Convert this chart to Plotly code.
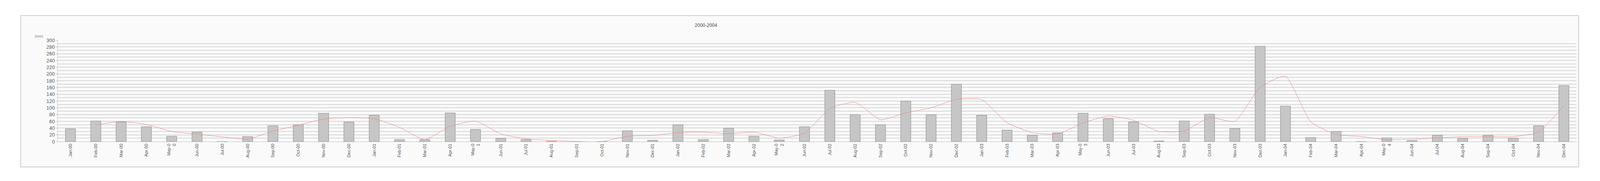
import plotly.graph_objects as go

months = ["Jan", "Feb", "Mar", "Apr", "May", "Jun", "Jul", "Aug", "Sep", "Oct", "Nov", "Dec"]
years = ["00", "01", "02", "03", "04"]
categories = [f"{m}-{y}" for y in years for m in months]
tick_text = [(f"May-0<br>{y[1]}" if m == "May" else f"{m}-{y}") for y in years for m in months]

rain = [38, 61, 58, 44, 16, 28, 0, 15, 47, 50, 84, 58,
        78, 6, 6, 85, 36, 10, 6, 1, 0, 0, 32, 4,
        50, 6, 40, 16, 5, 44, 152, 80, 50, 120, 80, 170,
        78, 34, 19, 26, 84, 68, 58, 2, 61, 81, 39, 282,
        105, 12, 30, 0, 11, 3, 19, 10, 19, 10, 47, 166]

trend = [None, 49.5, 59.5, 51, 30, 22, 14, 7.5, 31, 48.5, 67, 71,
         68, 42, 6, 45.5, 60.5, 23, 8, 3.5, 0.5, 0, 16, 18,
         27, 28, 23, 28, 10.5, 24.5, 98, 116, 65, 85, 100, 125,
         124, 56, 26.5, 22.5, 55, 76, 63, 30, 31.5, 71, 60, 160.5,
         193.5, 58.5, 21, 15, 5.5, 7, 11, 14.5, 14.5, 14.5, 28.5, 106.5]

H = 456
L, R, T, B = 140, 52, 95, 101
PH = H - T - B

fig = go.Figure()
fig.add_trace(go.Bar(x=categories, y=rain, width=0.4,
                     marker=dict(color="#c6c6c6", line=dict(color="#8a8a8a", width=1))))
fig.add_trace(go.Scatter(x=categories, y=trend, mode="lines",
                         line=dict(color="#f08080", width=1, shape="spline", smoothing=0.5),
                         connectgaps=False))

fig.update_layout(
    autosize=True, height=H,
    paper_bgcolor="#ffffff", plot_bgcolor="#fbfbfb",
    showlegend=False,
    margin=dict(l=L, r=R, t=T, b=B),
    title=dict(text="2000-2004", xref="container", x=0.441, xanchor="center",
               yref="container", y=1 - 57 / H, yanchor="middle",
               font=dict(family="Liberation Sans", size=12, color="#444")),
    shapes=[dict(type="rect", xref="paper", yref="paper",
                 x0=-0.0245, x1=1.0014, y0=-(B - 36) / PH, y1=1 + (T - 32) / PH,
                 line=dict(color="#cccccc", width=2), fillcolor="#fafafa", layer="below")],
    annotations=[dict(text="(mm)", xref="paper", yref="paper", x=-0.0158, y=1 + 17 / PH,
                      showarrow=False, font=dict(family="Liberation Sans", size=9, color="#777"))],
)
fig.update_xaxes(tickmode="array", tickvals=categories, ticktext=tick_text, tickangle=-90,
                 tickfont=dict(family="Liberation Sans", size=11, color="#555"),
                 showline=True, linecolor="#bbb", ticks="outside", ticklen=0,
                 showgrid=False, range=[-0.5, 59.5])
fig.update_yaxes(range=[0, 300], tickvals=list(range(0, 301, 20)),
                 tickfont=dict(family="Liberation Sans", size=13, color="#555"),
                 showline=True, linecolor="#bbb", ticks="outside", ticklen=4, tickcolor="#bbb",
                 gridcolor="#d6d6d6", gridwidth=2,
                 minor=dict(dtick=10, showgrid=True, gridcolor="#d6d6d6", gridwidth=2),
                 zeroline=False)

fig.write_html("out.html", default_width="100%", default_height=f"{H}px")
